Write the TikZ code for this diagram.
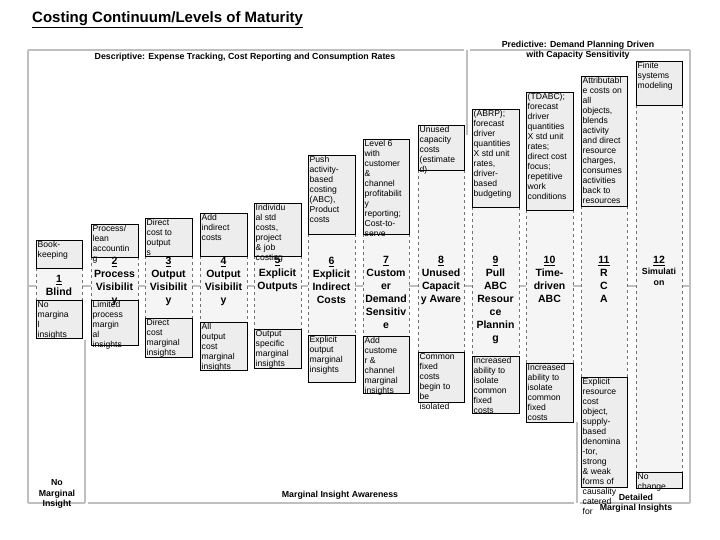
\documentclass[tikz,border=0pt]{standalone}
\usepackage{fontspec}
\setmainfont{Liberation Sans}
\begin{document}
\begin{tikzpicture}[x=1pt,y=-1pt,
  axis/.style={draw=black!25,line width=2.5pt},
  bx/.style={draw=black,fill=black!7,line width=0.6pt},
  bt/.style={anchor=north west,inner sep=1.5pt,align=left,font=\fontsize{8.6}{10}\selectfont},
  lv/.style={anchor=north,inner sep=0pt,align=center,font=\bfseries\fontsize{10.5}{13}\selectfont},
  dl/.style={draw=black!55,dashed,line width=0.6pt},
  hd/.style={inner sep=0pt,align=center,font=\bfseries\fontsize{8.8}{10.5}\selectfont},
  colbg/.style={fill=black!4,draw=none}]
\useasboundingbox (0,0) rectangle (720,540);
\fill[white] (0,0) rectangle (720,540);
\newcommand\lvcol[9]{%
  \fill[colbg] (#2,#5) rectangle (#3,#6);
  \draw[dl] (#2,#5) -- (#2,#6);
  \draw[dl] (#3,#5) -- (#3,#6);
  \draw[bx] (#2,#4) rectangle (#3,#5);
  \draw[bx] (#2,#6) rectangle (#3,#7);
  \node[bt] (t#1) at (#2,#4) {#8};
  \node[bt] (b#1) at (#2,#6) {#9};
}
% axes
\draw[axis] (28,50) -- (464,50);
\draw[axis] (470,50) -- (690,50);
\draw[axis] (28,50) -- (28,503);
\draw[axis] (467,50) -- (467,135);
\draw[axis] (690,50) -- (690,503);
\draw[axis] (28,286) -- (690,286);
\draw[axis] (85,340) -- (85,503);
\draw[axis] (577,422) -- (577,503);
\draw[axis] (28,503) -- (85,503);
\draw[axis] (88,503) -- (574,503);
\draw[axis] (580,503) -- (690,503);

\node[anchor=west,inner sep=0pt,font=\bfseries\fontsize{15}{17}\selectfont] (title) at (32,20) {\underline{Costing Continuum/Levels of Maturity}};
\node[hd] (desc) at (245,57) {Descriptive: Expense Tracking, Cost Reporting and Consumption Rates};
\node[hd] (pred) at (578,50) {Predictive: Demand Planning Driven\\with Capacity Sensitivity};
\node[hd] (nomi) at (57,494) {No\\Marginal\\Insight};
\node[hd] (mia) at (340,495) {Marginal Insight Awareness};
\node[hd] (dmi) at (636,503) {Detailed\\Marginal Insights};

\lvcol{1}{36}{82}{240}{268}{300}{338}{Book-\\keeping}{No\\margina\\l\\insights}
\lvcol{2}{91}{138}{224}{257}{300}{345}{Process/\\lean\\accountin\\g}{Limited\\process\\margin\\al\\insights}
\lvcol{3}{145}{192}{218}{256}{318}{357}{Direct\\cost to\\output\\s}{Direct\\cost\\marginal\\insights}
\lvcol{4}{200}{247}{213}{256}{322}{370}{Add\\indirect\\costs}{All\\output\\cost\\marginal\\insights}
\lvcol{5}{254}{301}{203}{256}{329}{368}{Individu\\al std\\costs,\\project\\\& job\\costing}{Output\\specific\\marginal\\insights}
\lvcol{6}{308}{355}{155}{234}{335}{382}{Push\\activity-\\based\\costing\\(ABC),\\Product\\costs}{Explicit\\output\\marginal\\insights}
\lvcol{7}{363}{409}{139}{234}{336}{393}{Level 6\\with\\customer\\\&\\channel\\profitabilit\\y\\reporting;\\Cost-to-\\serve}{Add\\custome\\r \&\\channel\\marginal\\insights}
\lvcol{8}{418}{464}{125}{170}{352}{402}{Unused\\capacity\\costs\\(estimate\\d)}{Common\\fixed\\costs\\begin to\\be\\isolated}
\lvcol{9}{472}{519}{109}{207}{356}{413}{(ABRP);\\forecast\\driver\\quantities\\X std unit\\rates,\\driver-\\based\\budgeting}{Increased\\ability to\\isolate\\common\\fixed\\costs}
\lvcol{10}{526}{573}{92}{210}{363}{422}{(TDABC);\\forecast\\driver\\quantities\\X std unit\\rates;\\direct cost\\focus;\\repetitive\\work\\conditions}{Increased\\ability to\\isolate\\common\\fixed\\costs}
\lvcol{11}{581}{627}{76}{206}{377}{487}{Attributabl\\e costs on\\all\\objects,\\blends\\activity\\and direct\\resource\\charges,\\consumes\\activities\\back to\\resources}{Explicit\\resource\\cost\\object,\\supply-\\based\\denomina\\-tor,\\strong\\\& weak\\forms of\\causality\\catered\\for}
\lvcol{12}{636}{682}{61}{105}{472}{488}{Finite\\systems\\modeling}{No\\change}

\node[lv] (l1) at (59,275) {\underline{1}\\Blind};
\node[lv] (l2) at (114.5,257) {\underline{2}\\Process\\Visibilit\\y};
\node[lv] (l3) at (168.5,257) {\underline{3}\\Output\\Visibilit\\y};
\node[lv] (l4) at (223.5,257) {\underline{4}\\Output\\Visibilit\\y};
\node[lv] (l5) at (277.5,256) {\underline{5}\\Explicit\\Outputs};
\node[lv] (l6) at (331.5,257) {\underline{6}\\Explicit\\Indirect\\Costs};
\node[lv] (l7) at (386,256) {\underline{7}\\Custom\\er\\Demand\\Sensitiv\\e};
\node[lv] (l8) at (441,256) {\underline{8}\\Unused\\Capacit\\y Aware};
\node[lv] (l9) at (495.5,256) {\underline{9}\\Pull\\ABC\\Resour\\ce\\Plannin\\g};
\node[lv] (l10) at (549.5,256) {\underline{10}\\Time-\\driven\\ABC};
\node[lv] (l11) at (604,256) {\underline{11}\\R\\C\\A};
\node[lv,font=\bfseries\fontsize{8.8}{11}\selectfont] (l12) at (659,256) {\fontsize{10.5}{13}\selectfont\underline{12}\\Simulati\\on};
\end{tikzpicture}
\end{document}
